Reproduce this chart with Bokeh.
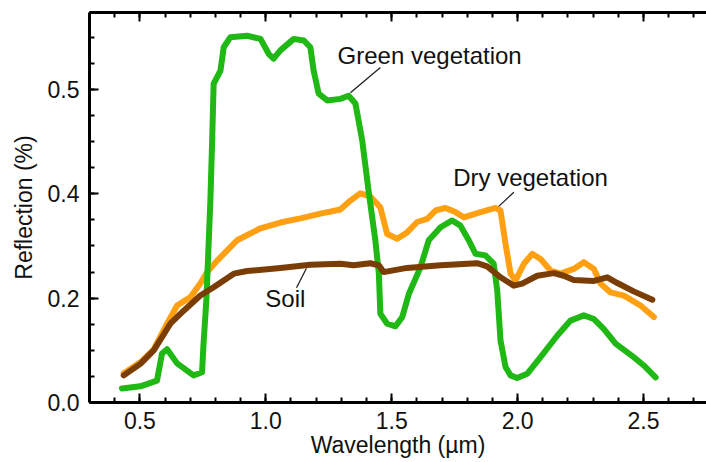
from bokeh.plotting import figure
from bokeh.models import LinearAxis, FixedTicker, Range1d, Label
from bokeh.embed import file_html
from bokeh.resources import INLINE

# ---- data ----
green_x = [0.429, 0.502, 0.568, 0.588, 0.608, 0.648, 0.713, 0.747, 0.752, 0.764, 0.780, 0.787,
           0.793, 0.820, 0.833, 0.859, 0.926, 0.979, 1.012, 1.031, 1.058, 1.111, 1.151, 1.177,
           1.190, 1.210, 1.244, 1.296, 1.329, 1.356, 1.383, 1.408, 1.435, 1.449, 1.455, 1.482,
           1.515, 1.542, 1.568, 1.614, 1.647, 1.694, 1.740, 1.773, 1.806, 1.833, 1.872, 1.905,
           1.919, 1.932, 1.952, 1.972, 1.998, 2.038, 2.091, 2.157, 2.210, 2.263, 2.303, 2.342,
           2.389, 2.461, 2.501, 2.548]
green_y = [0.027, 0.031, 0.042, 0.094, 0.102, 0.075, 0.052, 0.058, 0.106, 0.196, 0.387, 0.502,
           0.611, 0.636, 0.681, 0.700, 0.703, 0.697, 0.668, 0.659, 0.675, 0.697, 0.694, 0.681,
           0.636, 0.592, 0.579, 0.582, 0.588, 0.573, 0.502, 0.406, 0.311, 0.247, 0.170, 0.151,
           0.146, 0.164, 0.208, 0.259, 0.311, 0.336, 0.349, 0.339, 0.311, 0.285, 0.282, 0.266,
           0.215, 0.119, 0.068, 0.052, 0.047, 0.055, 0.087, 0.128, 0.157, 0.167, 0.160, 0.141,
           0.113, 0.087, 0.071, 0.048]

dry_x = [0.436, 0.502, 0.555, 0.608, 0.648, 0.701, 0.740, 0.767, 0.807, 0.846, 0.886, 0.979,
         1.058, 1.138, 1.217, 1.296, 1.336, 1.375, 1.415, 1.455, 1.482, 1.522, 1.561, 1.601,
         1.641, 1.674, 1.714, 1.753, 1.786, 1.853, 1.912, 1.932, 1.952, 1.972, 1.992, 2.025,
         2.058, 2.091, 2.131, 2.170, 2.223, 2.263, 2.303, 2.329, 2.369, 2.422, 2.488, 2.541]
dry_y = [0.056, 0.077, 0.102, 0.151, 0.186, 0.202, 0.228, 0.250, 0.272, 0.291, 0.311, 0.334,
         0.345, 0.353, 0.362, 0.370, 0.387, 0.401, 0.395, 0.374, 0.323, 0.314, 0.326, 0.346,
         0.352, 0.368, 0.373, 0.365, 0.355, 0.365, 0.373, 0.368, 0.304, 0.247, 0.234, 0.266,
         0.285, 0.275, 0.253, 0.247, 0.256, 0.269, 0.256, 0.228, 0.211, 0.205, 0.186, 0.164]

soil_x = [0.436, 0.502, 0.555, 0.621, 0.674, 0.740, 0.793, 0.873, 0.926, 1.058, 1.177, 1.296,
          1.349, 1.415, 1.449, 1.468, 1.561, 1.694, 1.839, 1.879, 1.932, 1.985, 2.018, 2.078,
          2.144, 2.183, 2.223, 2.303, 2.356, 2.396, 2.461, 2.535]
soil_y = [0.052, 0.074, 0.100, 0.151, 0.176, 0.205, 0.221, 0.247, 0.252, 0.258, 0.264, 0.266,
          0.263, 0.267, 0.263, 0.250, 0.258, 0.263, 0.267, 0.261, 0.240, 0.224, 0.228, 0.243,
          0.248, 0.243, 0.235, 0.233, 0.240, 0.229, 0.213, 0.197]

x_ticks = [0.5, 1.0, 1.5, 2.0, 2.5]
x_tick_labels = ["0.5", "1.0", "1.5", "2.0", "2.5"]
x_minor = [0.4 + 0.1 * i for i in range(24)]
y_ticks = [0.0, 0.2, 0.4, 0.6]
y_tick_labels = ["0.0", "0.2", "0.4", "0.5"]
y_minor = [0.05 * i for i in range(15)]

FONT = "Liberation Sans"
TXT = "#111111"

p = figure(width=706, height=462, output_backend="svg", toolbar_location=None,
           x_range=Range1d(0.30, 2.75), y_range=Range1d(0.0, 0.7476),
           min_border_left=89, min_border_right=0, min_border_top=12, min_border_bottom=60,
           x_axis_label="Wavelength (µm)", y_axis_label="Reflection (%)")
p.grid.visible = False
p.outline_line_color = None
p.background_fill_color = "white"
p.border_fill_color = "white"

for ax in (p.xaxis[0], p.yaxis[0]):
    ax.axis_line_width = 3
    ax.axis_line_color = "black"
    ax.major_tick_in = 9
    ax.major_tick_out = 0
    ax.minor_tick_in = 5
    ax.minor_tick_out = 0
    ax.major_tick_line_width = 2
    ax.minor_tick_line_width = 2
    ax.major_label_text_font = FONT
    ax.major_label_text_font_size = "23px"
    ax.major_label_text_color = TXT
    ax.axis_label_text_font = FONT
    ax.axis_label_text_font_size = "23px"
    ax.axis_label_text_font_style = "normal"
    ax.axis_label_text_color = TXT

p.xaxis[0].ticker = FixedTicker(ticks=x_ticks, minor_ticks=x_minor)
p.xaxis[0].major_label_overrides = dict(zip(x_ticks, x_tick_labels))
p.xaxis[0].major_label_standoff = 9
p.xaxis[0].axis_label_standoff = 0

p.yaxis[0].ticker = FixedTicker(ticks=y_ticks, minor_ticks=y_minor)
p.yaxis[0].major_label_overrides = dict(zip(y_ticks, y_tick_labels))
p.yaxis[0].major_label_standoff = 10
p.yaxis[0].axis_label_standoff = 8

# top frame edge with inward ticks (no labels): long ticks and short ticks
top_major = LinearAxis(ticker=FixedTicker(ticks=[], minor_ticks=x_ticks),
                       axis_line_width=3, axis_line_color="black",
                       major_tick_in=0, major_tick_out=0, minor_tick_in=9, minor_tick_out=0,
                       minor_tick_line_width=2)
top_minor = LinearAxis(ticker=FixedTicker(ticks=[], minor_ticks=x_minor),
                       axis_line_width=3, axis_line_color="black",
                       major_tick_in=0, major_tick_out=0, minor_tick_in=5, minor_tick_out=0,
                       minor_tick_line_width=2)
p.add_layout(top_major, "above")
p.add_layout(top_minor, "above")

GREEN = "#1fb814"
ORANGE = "#ffa012"
BROWN = "#7a3d06"

p.line(dry_x, dry_y, line_color=ORANGE, line_width=6, line_join="round", line_cap="round")
p.line(green_x, green_y, line_color=GREEN, line_width=6, line_join="round", line_cap="round")
p.line(soil_x, soil_y, line_color=BROWN, line_width=6, line_join="round", line_cap="round")

# leaders
p.segment(x0=[1.336, 1.925, 1.122], y0=[0.594, 0.376, 0.220],
          x1=[1.455, 1.985, 1.161], y1=[0.642, 0.403, 0.257],
          line_color="#222222", line_width=1.3)

for txt, x, y in [("Green vegetation", 1.285, 0.665),
                  ("Dry vegetation", 1.744, 0.432),
                  ("Soil", 0.998, 0.199)]:
    p.add_layout(Label(x=x, y=y, text=txt, text_font=FONT, text_font_size="24px",
                       text_color=TXT, text_align="left", text_baseline="middle"))

open("out.html", "w").write(file_html(p, INLINE))
